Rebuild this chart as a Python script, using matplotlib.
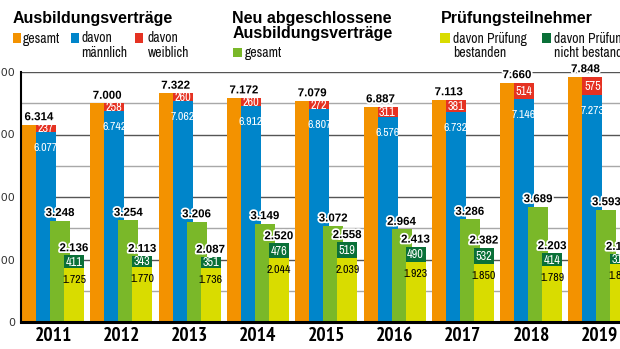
import matplotlib
matplotlib.use('Agg')
import matplotlib.pyplot as plt
import matplotlib.patheffects as pe
from matplotlib import font_manager as fm
from matplotlib.patches import Rectangle
import numpy as np

# ---------------- data ----------------
years = ['2011', '2012', '2013', '2014', '2015', '2016', '2017', '2018', '2019']
gesamt = [6314, 7000, 7322, 7172, 7079, 6887, 7113, 7660, 7848]
maennlich = [6077, 6742, 7062, 6912, 6807, 6576, 6732, 7146, 7273]
weiblich = [237, 258, 260, 260, 272, 311, 381, 514, 575]
neu_gesamt = [3248, 3254, 3206, 3149, 3072, 2964, 3286, 3689, 3593]
pruef_gesamt = [2136, 2113, 2087, 2520, 2558, 2413, 2382, 2203, 2180]
bestanden = [1725, 1770, 1736, 2044, 2039, 1923, 1850, 1789, 1870]
nicht_bestanden = [411, 343, 351, 476, 519, 490, 532, 414, 310]
yticks = [0, 2000, 4000, 6000, 8000]
ytick_labels = ['0', '2.000', '4.000', '6.000', '8.000']

# ---------------- style ----------------
ORANGE = '#F39200'
BLUE = '#0085CA'
RED = '#E53222'
LGREEN = '#7AB829'
YELLOW = '#D9DC00'
DGREEN = '#0A7038'

# find a narrow / condensed sans font if one is installed
def find_narrow(bold):
    best = None
    for f in fm.fontManager.ttflist:
        nm = f.name.lower()
        fn = f.fname.lower()
        if 'serif' in nm or 'mono' in nm or 'serif' in fn or 'mono' in fn:
            continue
        if f.name == 'Liberation Sans Narrow':
            pri = 0
        elif 'narrow' in nm or 'narrow' in fn:
            pri = 1
        elif 'condensed' in nm or 'condensed' in fn or str(f.stretch) in ('condensed', 'semi-condensed'):
            pri = 2
        else:
            continue
        if f.style != 'normal':
            continue
        w = f.weight if isinstance(f.weight, int) else (700 if 'bold' in str(f.weight) else 400)
        want = 700 if bold else 400
        score = (pri, abs(w - want))
        if best is None or score < best[0]:
            best = (score, f.fname)
    return best[1] if best else None

NARROW_REG = find_narrow(False)
NARROW_BOLD = find_narrow(True)
HAS_NARROW = NARROW_REG is not None

def nprops(size, bold=False):
    if HAS_NARROW:
        fname = NARROW_BOLD if bold else NARROW_REG
        return fm.FontProperties(fname=fname, size=size)
    return fm.FontProperties(family='Liberation Sans', weight='bold' if bold else 'normal',
                             size=size * 0.85)

def fmt(v):
    return f"{v:,}".replace(',', '.')

W, H = 620, 349
fig = plt.figure(figsize=(W / 100, H / 100), dpi=100)
ax = fig.add_axes([20.5 / W, 27 / H, (W - 20.5) / W, 250 / H])

x = np.arange(len(years))
unit = 68.3
off = 14 / unit
bw = 20 / unit

ax.bar(x - 1.5 * off, gesamt, bw, color=ORANGE, lw=0, zorder=3)
ax.bar(x - 0.5 * off, maennlich, bw, color=BLUE, lw=0, zorder=4)
ax.bar(x - 0.5 * off, weiblich, bw, bottom=maennlich, color=RED, lw=0, zorder=4)
ax.bar(x + 0.5 * off, neu_gesamt, bw, color=LGREEN, lw=0, zorder=5)
ax.bar(x + 1.5 * off, bestanden, bw, color=YELLOW, lw=0, zorder=6)
ax.bar(x + 1.5 * off, nicht_bestanden, bw, bottom=bestanden, color=DGREEN, lw=0, zorder=6)

for v in range(1000, 9000, 1000):
    ax.axhline(v, color='#555555' if v % 2000 == 0 else '#a8a8a8', lw=1.0, zorder=1)

ax.set_xlim(-(53 - 20.5) / unit, (620 - 53) / unit)
ax.set_ylim(0, 8000)
for s in ['top', 'right']:
    ax.spines[s].set_visible(False)
ax.spines['left'].set_linewidth(1.5)
ax.spines['bottom'].set_linewidth(2.2)
ax.spines['left'].set_zorder(10)
ax.spines['bottom'].set_zorder(10)

ax.set_yticks(yticks)
ax.set_yticklabels(ytick_labels, fontfamily='DejaVu Sans', fontsize=8, color='#333333')
ax.tick_params(axis='y', length=0, pad=4)
ax.set_xticks(x)
ax.set_xticklabels(years)
for t in ax.get_xticklabels():
    t.set_fontproperties(nprops(14, bold=True))
ax.tick_params(axis='x', length=0, pad=3.5)

stroke = [pe.withStroke(linewidth=2.5, foreground='white')]

def lab(xv, yv, s, dy_px, **kw):
    ax.annotate(s, (xv, yv), xytext=(0, dy_px * 0.72), textcoords='offset points',
                ha='center', va='baseline', annotation_clip=False, zorder=20, **kw)

bold_kw = dict(fontfamily='Liberation Sans', fontweight='bold', fontsize=8.3,
               color='black', path_effects=stroke)

for i in range(len(years)):
    # Ausbildungsverträge
    lab(x[i] - off, gesamt[i], fmt(gesamt[i]), 4.5, **bold_kw)
    lab(x[i] - 0.5 * off, maennlich[i] + weiblich[i] / 2, fmt(weiblich[i]), -4,
        fontproperties=nprops(8.8), color='white')
    lab(x[i] - 0.5 * off, maennlich[i], fmt(maennlich[i]), -19,
        fontproperties=nprops(8.5), color='white')
    # Neu abgeschlossene
    lab(x[i] + 0.5 * off, neu_gesamt[i], fmt(neu_gesamt[i]), 4.5, **bold_kw)
    # Prüfungsteilnehmer
    lab(x[i] + 1.5 * off, pruef_gesamt[i], fmt(pruef_gesamt[i]), 4, **bold_kw)
    lab(x[i] + 1.5 * off, bestanden[i] + nicht_bestanden[i] / 2, fmt(nicht_bestanden[i]), -4,
        fontproperties=nprops(8.8), color='white')
    lab(x[i] + 1.5 * off, bestanden[i], fmt(bestanden[i]), -15,
        fontproperties=nprops(8.5), color='black')

# ---------------- header / legends ----------------
def ftext(xp, yp, s, **kw):
    fig.text(xp / W, 1 - yp / H, s, va='baseline', ha='left', **kw)

def fsquare(xp, yp, w, h, c):
    fig.add_artist(Rectangle((xp / W, 1 - (yp + h) / H), w / W, h / H,
                             transform=fig.transFigure, color=c, lw=0))

title_kw = dict(fontfamily='Liberation Sans', fontweight='bold', fontsize=11.5, color='black')
leg_kw = dict(fontproperties=nprops(9.9), color='#111111')

ftext(12.5, 23, 'Ausbildungsverträge', **title_kw)
ftext(232.5, 23.2, 'Neu abgeschlossene', **title_kw)
ftext(232.5, 38.4, 'Ausbildungsverträge', **title_kw)
ftext(440.5, 23, 'Prüfungsteilnehmer', **title_kw)

fsquare(12.7, 33.3, 8.3, 9.4, ORANGE)
ftext(22.7, 42.5, 'gesamt', **leg_kw)
fsquare(70.7, 33.3, 8.0, 9.4, BLUE)
ftext(81.5, 42.5, 'davon', **leg_kw)
ftext(81.5, 57.2, 'männlich', **leg_kw)
fsquare(135.0, 33.3, 8.3, 9.4, RED)
ftext(147.5, 42.5, 'davon', **leg_kw)
ftext(147.5, 57.2, 'weiblich', **leg_kw)

fsquare(233.3, 48.3, 8.3, 8.5, LGREEN)
ftext(245.0, 56.8, 'gesamt', **leg_kw)

fsquare(440.0, 33.3, 9.5, 9.4, YELLOW)
ftext(453.3, 42.5, 'davon Prüfung', **leg_kw)
ftext(453.3, 57.2, 'bestanden', **leg_kw)
fsquare(541.7, 33.3, 9.0, 9.4, DGREEN)
ftext(554.0, 42.5, 'davon Prüfung', **leg_kw)
ftext(554.0, 57.2, 'nicht bestanden', **leg_kw)

fig.savefig('out.png', dpi=100)
